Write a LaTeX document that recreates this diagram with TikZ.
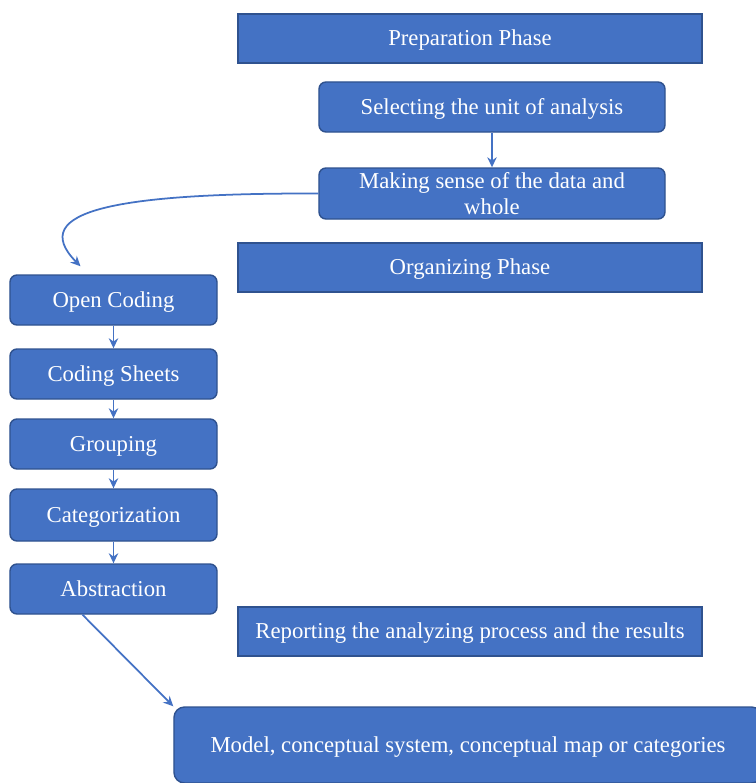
\documentclass[tikz,border=0pt]{standalone}
\usepackage{fontspec}
\setmainfont{Liberation Serif}
\usepackage{xcolor}
\usepackage{tikz}
\usetikzlibrary{arrows.meta,positioning,calc}
\definecolor{boxfill}{HTML}{4472C4}
\definecolor{boxline}{HTML}{2F528F}
\definecolor{linkblue}{HTML}{4472C4}
\tikzset{
  phase/.style={draw=boxline,fill=boxfill,line width=1.2pt,text=white,
                font=\fontsize{19.4}{22}\selectfont,inner sep=2pt,
                text height=16pt,text depth=4pt,
                minimum width=13.92cm,minimum height=1.47cm},
  stepbox/.style={draw=boxline,fill=boxfill,line width=1.2pt,text=white,
                  rounded corners=6pt,font=\fontsize{19.4}{22}\selectfont,
                  inner sep=2pt,align=center},
  coding/.style={stepbox,text height=16pt,text depth=4pt,
                 minimum width=6.21cm,minimum height=1.5cm},
  flow/.style={-{Stealth[length=3mm,width=2.8mm]},line width=1.5pt,linkblue},
}
\begin{document}
\begin{tikzpicture}[x=0.03cm,y=-0.03cm]
  \useasboundingbox (0,0) rectangle (756,783);
  \node[phase] (prep) at (470,38.5) {Preparation Phase};
  \node[stepbox,text height=16pt,text depth=4pt,minimum width=10.38cm,
        minimum height=1.5cm]
    (unit) at (492,107) {Selecting the unit of analysis};
  \node[stepbox,minimum width=10.38cm,minimum height=1.53cm]
    (sense) at (492,193.5) {Making sense of the data and\\whole};
  \node[phase] (org) at (470,267.5) {Organizing Phase};
  \node[coding] (open) at (113.5,300) {Open Coding};
  \node[coding] (sheets) at (113.5,374) {Coding Sheets};
  \node[coding] (group) at (113.5,444) {Grouping};
  \node[coding,minimum height=1.56cm] (categ) at (113.5,515) {Categorization};
  \node[coding] (abstr) at (113.5,589) {Abstraction};
  \node[phase] (report) at (470,631.5)
    {Reporting the analyzing process and the results};
  \node[stepbox,text height=16pt,text depth=4pt,minimum width=17.64cm,
        minimum height=2.28cm,rounded corners=9pt]
    (model) at (468,745)
    {Model, conceptual system, conceptual map or categories};
  \draw[flow] (unit) -- (sense);
  \draw[flow] (sense.west) .. controls (120,193) and (25,210)
    .. ([xshift=-0.99cm,yshift=0.24cm]open.north);
  \draw[flow] (open) -- (sheets);
  \draw[flow] (sheets) -- (group);
  \draw[flow] (group) -- (categ);
  \draw[flow] (categ) -- (abstr);
  \draw[flow] ([xshift=-0.93cm]abstr.south) -- (model.north west);
\end{tikzpicture}
\end{document}
